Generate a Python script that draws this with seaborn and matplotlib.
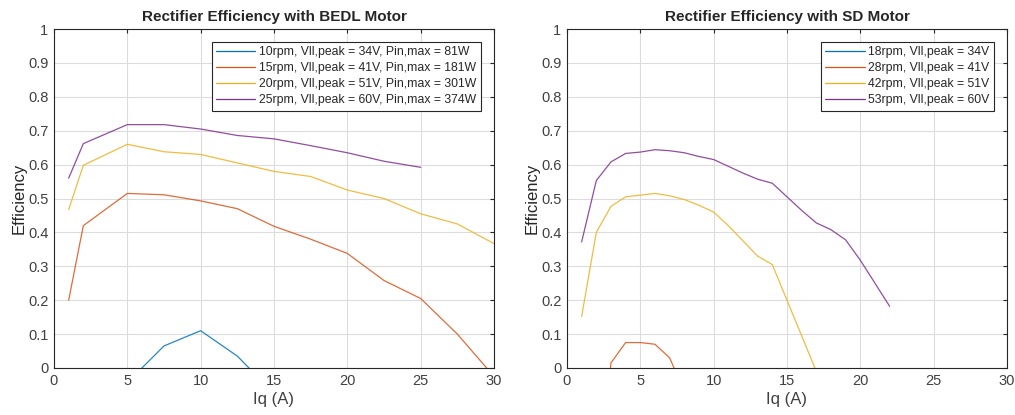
import numpy as np
import pandas as pd
import matplotlib
matplotlib.use("Agg")
import matplotlib.pyplot as plt
import seaborn as sns

# BEDL motor data (Iq in A, efficiency)
bedl_labels = ["10rpm, Vll,peak = 34V, Pin,max = 81W",
               "15rpm, Vll,peak = 41V, Pin,max = 181W",
               "20rpm, Vll,peak = 51V, Pin,max = 301W",
               "25rpm, Vll,peak = 60V, Pin,max = 374W"]
bedl_iq_10 = [5, 7.5, 10, 12.5, 15]
bedl_eff_10 = [-0.043, 0.065, 0.11, 0.035, -0.075]
bedl_iq_15 = [1, 2, 5, 7.5, 10, 12.5, 15, 17.5, 20, 22.5, 25, 27.5, 30]
bedl_eff_15 = [0.2, 0.42, 0.515, 0.511, 0.493, 0.47, 0.418, 0.38, 0.338, 0.258, 0.205, 0.1, -0.025]
bedl_iq_20 = [1, 2, 5, 7.5, 10, 12.5, 15, 17.5, 20, 22.5, 25, 27.5, 30]
bedl_eff_20 = [0.467, 0.598, 0.66, 0.638, 0.63, 0.605, 0.58, 0.565, 0.525, 0.5, 0.455, 0.425, 0.367]
bedl_iq_25 = [1, 2, 5, 7.5, 10, 12.5, 15, 17.5, 20, 22.5, 25]
bedl_eff_25 = [0.56, 0.662, 0.718, 0.718, 0.705, 0.686, 0.676, 0.656, 0.635, 0.61, 0.592]

# SD motor data
sd_labels = ["18rpm, Vll,peak = 34V",
             "28rpm, Vll,peak = 41V",
             "42rpm, Vll,peak = 51V",
             "53rpm, Vll,peak = 60V"]
sd_iq_18 = [1, 2, 3, 4]
sd_eff_18 = [-0.6, -0.45, -0.4, -0.42]
sd_iq_28 = [2, 3, 4, 5, 6, 7, 8]
sd_eff_28 = [-0.4, 0.015, 0.075, 0.075, 0.07, 0.03, -0.07]
sd_iq_42 = [1, 2, 3, 4, 5, 6, 7, 8, 9, 10, 11, 12, 13, 14, 15, 16, 17]
sd_eff_42 = [0.152, 0.4, 0.477, 0.505, 0.51, 0.515, 0.508, 0.497, 0.48, 0.46,
             0.42, 0.375, 0.33, 0.305, 0.2, 0.095, -0.01]
sd_iq_53 = [1, 2, 3, 4, 5, 6, 7, 8, 9, 10, 11, 12, 13, 14, 15, 16, 17, 18, 19, 20, 21, 22]
sd_eff_53 = [0.372, 0.553, 0.608, 0.633, 0.637, 0.644, 0.641, 0.635, 0.624, 0.615,
             0.595, 0.575, 0.557, 0.545, 0.505, 0.465, 0.428, 0.408, 0.378, 0.318, 0.25, 0.182]

colors = ["#0072BD", "#D95319", "#EDB120", "#7E2F8E"]


def make_df(labels, iqs, effs):
    parts = []
    for lab, x, y in zip(labels, iqs, effs):
        parts.append(pd.DataFrame({"Iq": x, "Eff": y, "Series": lab}))
    return pd.concat(parts, ignore_index=True)


df_bedl = make_df(bedl_labels, [bedl_iq_10, bedl_iq_15, bedl_iq_20, bedl_iq_25],
                  [bedl_eff_10, bedl_eff_15, bedl_eff_20, bedl_eff_25])
df_sd = make_df(sd_labels, [sd_iq_18, sd_iq_28, sd_iq_42, sd_iq_53],
                [sd_eff_18, sd_eff_28, sd_eff_42, sd_eff_53])

sns.set_style("white")
plt.rcParams['font.family'] = ['Liberation Sans', 'DejaVu Sans']

fig = plt.figure(figsize=(10.15, 4.15), dpi=100)
ax1 = fig.add_axes([0.0532, 0.1133, 0.4335, 0.8167])
ax2 = fig.add_axes([0.5586, 0.1133, 0.4335, 0.8167])

for ax, df, labels, title in [(ax1, df_bedl, bedl_labels, "Rectifier Efficiency with BEDL Motor"),
                              (ax2, df_sd, sd_labels, "Rectifier Efficiency with SD Motor")]:
    sns.lineplot(data=df, x="Iq", y="Eff", hue="Series", hue_order=labels,
                 palette=colors, ax=ax, linewidth=0.9, sort=False, estimator=None,
                 alpha=0.85)
    ax.set_xlim(0, 30)
    ax.set_ylim(0, 1)
    ax.set_xticks(np.arange(0, 31, 5))
    ax.set_yticks(np.arange(0, 1.01, 0.1))
    ax.set_yticklabels(["0", "0.1", "0.2", "0.3", "0.4", "0.5", "0.6", "0.7", "0.8", "0.9", "1"])
    ax.grid(True, color="#dcdcdc", linewidth=0.8)
    ax.tick_params(direction="in", length=3, labelsize=10.5, colors="#262626",
                   labelcolor="#404040", top=True, right=True, pad=4)
    for s in ax.spines.values():
        s.set_color("#262626")
        s.set_linewidth(0.8)
    ax.set_xlabel("Iq (A)", fontsize=12, color="#404040", labelpad=3)
    ax.set_ylabel("Efficiency", fontsize=12, color="#262626", labelpad=1)
    ax.set_title(title, fontsize=11, fontweight="bold", pad=6)
    leg = ax.legend(loc="upper right", fontsize=8.8, frameon=True, fancybox=False,
                    edgecolor="#262626", framealpha=1, handlelength=3.2,
                    borderpad=0.35, labelspacing=0.33, handletextpad=0.3,
                    borderaxespad=0, bbox_to_anchor=(0.97, 0.962))
    leg.get_frame().set_linewidth(0.8)
    for h in leg.get_lines():
        h.set_alpha(1)

fig.savefig("out.png", dpi=100)
